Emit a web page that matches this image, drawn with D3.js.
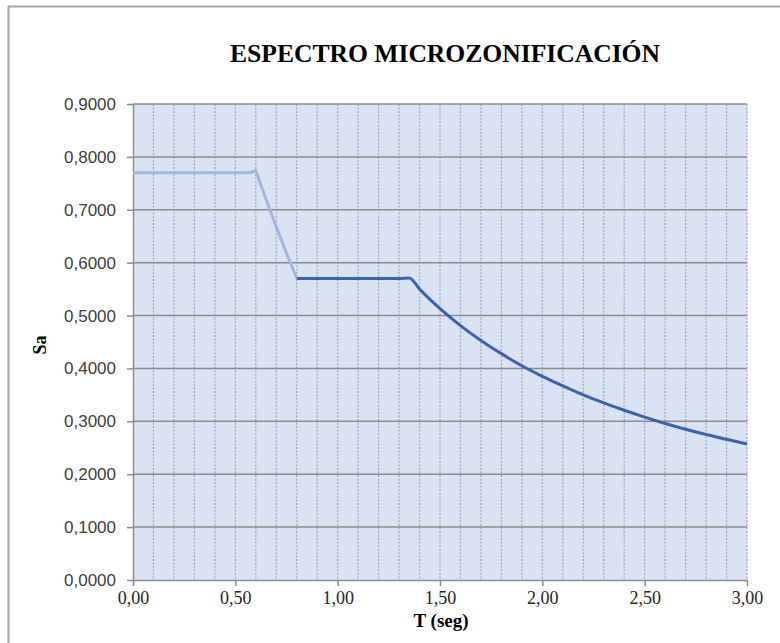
<!DOCTYPE html>
<html>
<head>
<meta charset="utf-8">
<script src="https://cdn.jsdelivr.net/npm/d3@7"></script>
<style>
  body { margin: 0; background: #fff; }
  svg { display: block; }
</style>
</head>
<body>
<div id="chart"></div>
<script>
// values
const title = "ESPECTRO MICROZONIFICACIÓN";
const xLabel = "T (seg)";
const yLabel = "Sa";
const xTicks = [0, 0.5, 1.0, 1.5, 2.0, 2.5, 3.0];
const yTicks = [0, 0.1, 0.2, 0.3, 0.4, 0.5, 0.6, 0.7, 0.8, 0.9];
const xGrid = [0.1, 0.2, 0.3, 0.4, 0.5, 0.6, 0.7, 0.8, 0.9, 1.0, 1.1, 1.2, 1.3, 1.4, 1.5,
               1.6, 1.7, 1.8, 1.9, 2.0, 2.1, 2.2, 2.3, 2.4, 2.5, 2.6, 2.7, 2.8, 2.9, 3.0];

// tramo inicial (color claro)
const tA  = [0.00, 0.10, 0.20, 0.30, 0.40, 0.50, 0.57, 0.60, 0.65, 0.70, 0.75, 0.80];
const saA = [0.770, 0.770, 0.770, 0.770, 0.770, 0.770, 0.770, 0.774, 0.720, 0.668, 0.618, 0.570];

// tramo meseta + descendente (azul oscuro)
const tB  = [0.80, 0.90, 1.00, 1.10, 1.20, 1.30, 1.35, 1.40, 1.50, 1.60, 1.70, 1.80, 1.90,
             2.00, 2.10, 2.20, 2.30, 2.40, 2.50, 2.60, 2.70, 2.80, 2.90, 3.00];
const saB = [0.570, 0.570, 0.570, 0.570, 0.570, 0.570, 0.571, 0.550, 0.513, 0.481, 0.453, 0.428, 0.405,
             0.385, 0.367, 0.350, 0.335, 0.321, 0.308, 0.296, 0.285, 0.275, 0.266, 0.257];

const W = 780, H = 643;
const margin = { top: 104, right: 33, bottom: 63, left: 133 };
const width = W - margin.left - margin.right;
const height = H - margin.top - margin.bottom;

const svg = d3.select("#chart").append("svg")
    .attr("width", W)
    .attr("height", H);

// chart frame (only top and left visible)
svg.append("line").attr("x1", 8).attr("x2", W).attr("y1", 6.5).attr("y2", 6.5)
    .attr("stroke", "#a6a6a6").attr("stroke-width", 2);
svg.append("line").attr("x1", 8.5).attr("x2", 8.5).attr("y1", 6).attr("y2", H)
    .attr("stroke", "#a6a6a6").attr("stroke-width", 2);

svg.append("text")
    .attr("x", 445).attr("y", 62)
    .attr("text-anchor", "middle")
    .attr("font-family", "Liberation Serif, Times New Roman, serif")
    .attr("font-weight", "bold")
    .attr("font-size", 26)
    .attr("textLength", 430)
    .attr("lengthAdjust", "spacingAndGlyphs")
    .attr("fill", "#000")
    .text(title);

const g = svg.append("g")
    .attr("transform", "translate(" + margin.left + "," + margin.top + ")");

const xScale = d3.scaleLinear().domain([0, 3]).range([0, width]);
const yScale = d3.scaleLinear().domain([0, 0.9]).range([height, 0]);

g.append("rect")
    .attr("width", width).attr("height", height)
    .attr("fill", "#dae3f3");

// minor vertical grid
g.selectAll(".vgrid").data(xGrid).enter().append("line")
    .attr("x1", d => xScale(d)).attr("x2", d => xScale(d))
    .attr("y1", 0).attr("y2", height)
    .attr("stroke", "#a3afc2")
    .attr("stroke-width", 1.3)
    .attr("stroke-dasharray", "2,1.5");

// horizontal grid
g.selectAll(".hgrid").data(yTicks.slice(1)).enter().append("line")
    .attr("x1", 0).attr("x2", width)
    .attr("y1", d => yScale(d)).attr("y2", d => yScale(d))
    .attr("stroke", "#8c8c8c")
    .attr("stroke-width", 1.5);

// axes
const yAxis = g.append("g")
    .call(d3.axisLeft(yScale).tickValues(yTicks).tickSize(6).tickSizeOuter(0)
        .tickFormat(d => d3.format(".4f")(d).replace(".", ",")));
yAxis.select(".domain").attr("stroke", "#8c8c8c").attr("stroke-width", 1.5);
yAxis.selectAll(".tick line").attr("stroke", "#8c8c8c").attr("stroke-width", 1.5);
yAxis.selectAll(".tick text")
    .attr("font-family", "Liberation Sans, Arial, sans-serif")
    .attr("font-size", 17)
    .attr("fill", "#404040")
    .attr("x", -17);

const xAxis = g.append("g")
    .attr("transform", "translate(0," + height + ")")
    .call(d3.axisBottom(xScale).tickValues(xTicks).tickSize(6).tickSizeOuter(0)
        .tickFormat(d => d3.format(".2f")(d).replace(".", ",")));
xAxis.select(".domain").attr("stroke", "#8c8c8c").attr("stroke-width", 1.5);
xAxis.selectAll(".tick line").attr("stroke", "#8c8c8c").attr("stroke-width", 1.5);
xAxis.selectAll(".tick text")
    .attr("font-family", "Liberation Serif, Times New Roman, serif")
    .attr("font-size", 18)
    .attr("fill", "#262626")
    .attr("y", 11);

// series
const lineA = d3.line()
    .x(d => xScale(d[0]))
    .y(d => yScale(d[1]));
const lineB = d3.line()
    .x(d => xScale(d[0]))
    .y(d => yScale(d[1]))
    .curve(d3.curveMonotoneX);

g.append("path")
    .datum(d3.zip(tA, saA))
    .attr("fill", "none")
    .attr("stroke", "#a3b6e2")
    .attr("stroke-width", 3)
    .attr("stroke-linejoin", "round")
    .attr("d", lineA);

g.append("path")
    .datum(d3.zip(tB, saB))
    .attr("fill", "none")
    .attr("stroke", "#3d62ad")
    .attr("stroke-width", 3)
    .attr("stroke-linejoin", "round")
    .attr("d", lineB);

// axis titles
svg.append("text")
    .attr("x", 441).attr("y", 627)
    .attr("text-anchor", "middle")
    .attr("font-family", "Liberation Serif, Times New Roman, serif")
    .attr("font-weight", "bold")
    .attr("font-size", 19)
    .text(xLabel);

svg.append("text")
    .attr("transform", "translate(46,345) rotate(-90)")
    .attr("text-anchor", "middle")
    .attr("font-family", "Liberation Serif, Times New Roman, serif")
    .attr("font-weight", "bold")
    .attr("font-size", 18)
    .text(yLabel);
</script>
</body>
</html>
